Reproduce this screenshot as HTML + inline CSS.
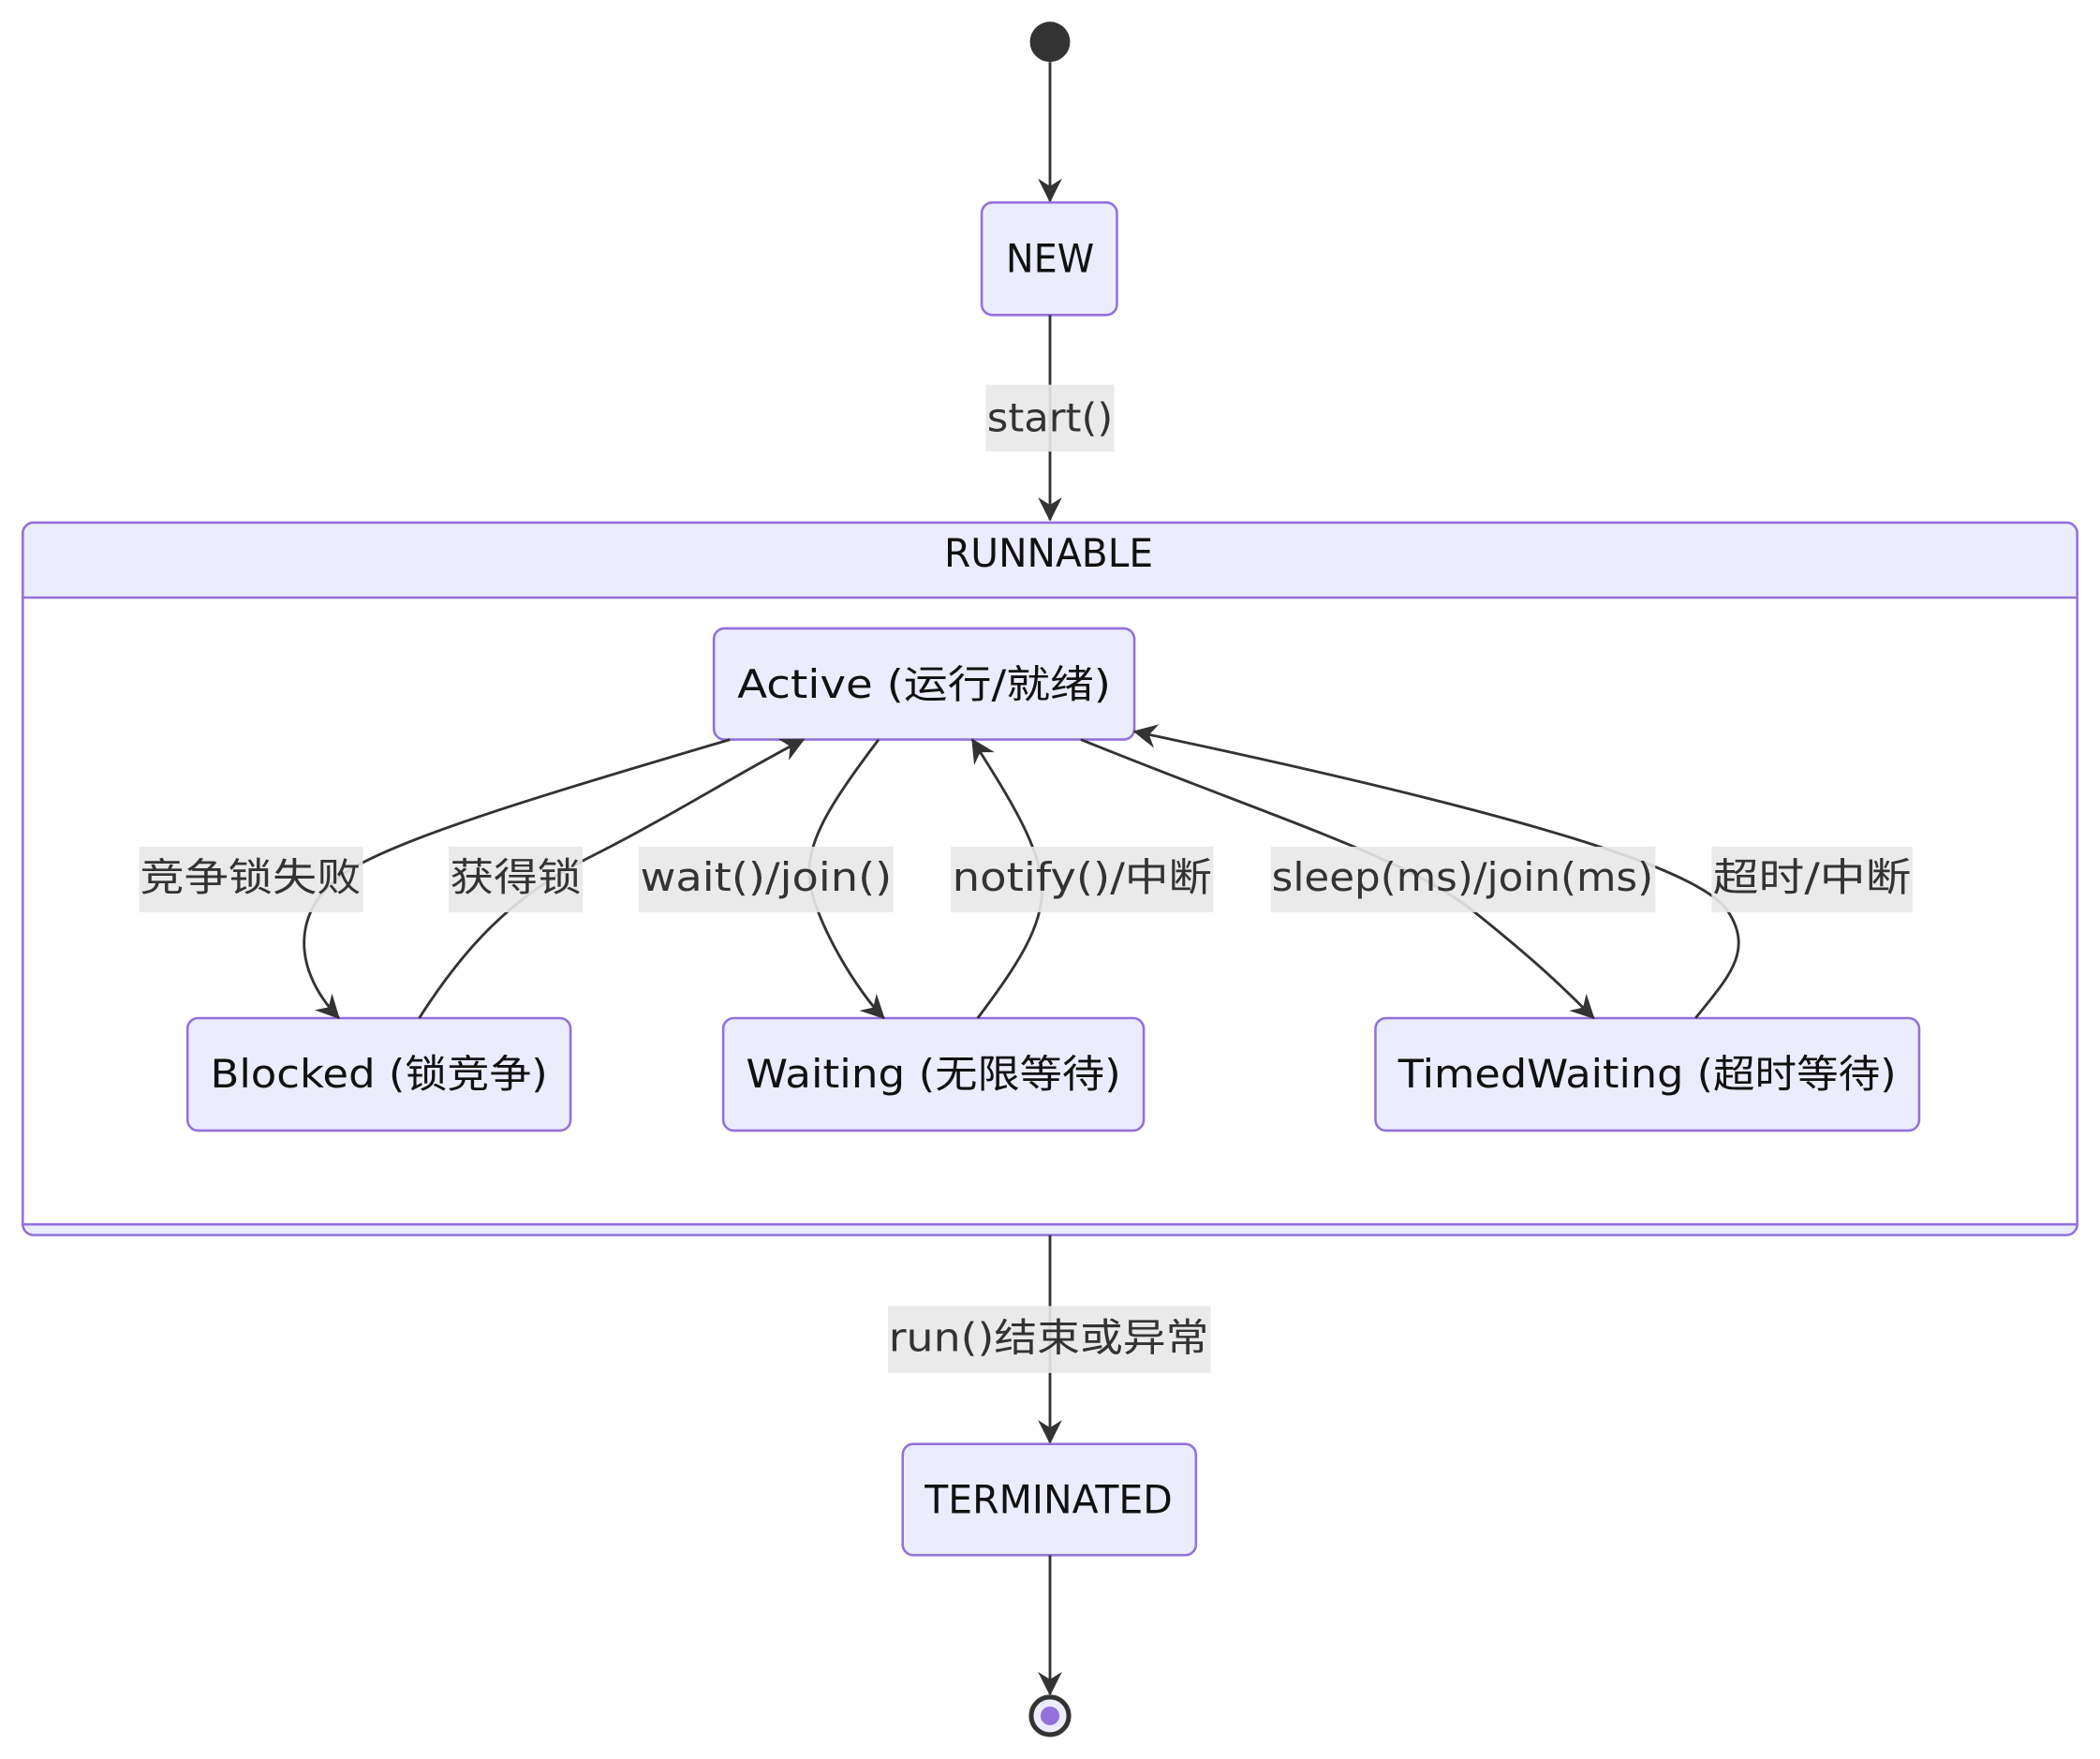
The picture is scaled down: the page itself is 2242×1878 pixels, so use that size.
<!DOCTYPE html>
<html><head><meta charset="utf-8"><style>
html,body{margin:0;padding:0;background:#fff;}
svg{display:block;}
text{font-family:"DejaVu Sans","Noto Sans CJK SC",sans-serif;font-size:29px;text-anchor:middle;dominant-baseline:central;fill:#111;}
.n{fill:#ECECFF;stroke:#9370DB;stroke-width:1.8;}
.e{fill:none;stroke:#333;stroke-width:2;}
.lb{fill:#e8e8e8;opacity:0.9;}
text.lt{fill:#333;}
</style></head><body>
<svg width="2242" height="1878" viewBox="0 0 1568 1313" xmlns="http://www.w3.org/2000/svg">
<defs>
<marker id="a" viewBox="0 0 16 16" refX="15" refY="8" markerWidth="18" markerHeight="18" markerUnits="userSpaceOnUse" orient="auto">
<path d="M0,0 L16,8 L0,16 L5,8 z" fill="#333"/>
</marker>
</defs>
<circle cx="784" cy="31" r="15" fill="#333"/>
<line class="e" x1="784" y1="46" x2="784" y2="150" marker-end="url(#a)"/>
<rect class="n" x="733" y="151" width="101" height="84" rx="8"/>
<text x="784" y="193" textLength="66" lengthAdjust="spacingAndGlyphs">NEW</text>
<line class="e" x1="784" y1="235" x2="784" y2="388" marker-end="url(#a)"/>
<rect class="lb" x="736" y="287" width="96" height="50"/>
<text class="lt" x="784" y="312" textLength="94" lengthAdjust="spacingAndGlyphs">start()</text>
<rect class="n" x="17" y="390" width="1534" height="532" rx="8"/>
<rect x="18" y="447" width="1532" height="467" fill="#fff"/>
<line x1="17" y1="446" x2="1551" y2="446" stroke="#9370DB" stroke-width="1.8"/>
<line x1="17" y1="914" x2="1551" y2="914" stroke="#9370DB" stroke-width="1.8"/>
<text x="783" y="413" textLength="156" lengthAdjust="spacingAndGlyphs">RUNNABLE</text>
<rect class="n" x="533" y="469" width="314" height="83" rx="8"/>
<text x="690" y="511" textLength="279" lengthAdjust="spacingAndGlyphs">Active (运行/就绪)</text>
<rect class="n" x="140" y="760" width="286" height="84" rx="8"/>
<text x="283" y="802" textLength="252" lengthAdjust="spacingAndGlyphs">Blocked (锁竞争)</text>
<rect class="n" x="540" y="760" width="314" height="84" rx="8"/>
<text x="697" y="802" textLength="280" lengthAdjust="spacingAndGlyphs">Waiting (无限等待)</text>
<rect class="n" x="1027" y="760" width="406" height="84" rx="8"/>
<text x="1230" y="802" textLength="372" lengthAdjust="spacingAndGlyphs">TimedWaiting (超时等待)</text>
<path class="e" d="M545,552 C400,595 300,625 260,650 S215,720 253,760" marker-end="url(#a)"/>
<path class="e" d="M313,760 C345,710 380,670 440,640 S560,572 600,552" marker-end="url(#a)"/>
<path class="e" d="M656,552 C620,600 600,630 605,660 S640,740 660,760" marker-end="url(#a)"/>
<path class="e" d="M730,760 C760,720 780,690 778,660 S750,590 726,552" marker-end="url(#a)"/>
<path class="e" d="M807,552 C950,610 1050,640 1100,680 S1170,740 1190,760" marker-end="url(#a)"/>
<path class="e" d="M1266,760 C1290,730 1310,710 1290,680 S1150,610 847,546" marker-end="url(#a)"/>
<rect class="lb" x="104" y="632" width="167" height="49"/><text class="lt" x="187" y="655" textLength="165" lengthAdjust="spacingAndGlyphs">竞争锁失败</text>
<rect class="lb" x="335" y="632" width="100" height="49"/><text class="lt" x="385" y="655" textLength="98" lengthAdjust="spacingAndGlyphs">获得锁</text>
<rect class="lb" x="477" y="632" width="190" height="49"/><text class="lt" x="572" y="655" textLength="188" lengthAdjust="spacingAndGlyphs">wait()/join()</text>
<rect class="lb" x="710" y="632" width="196" height="49"/><text class="lt" x="808" y="655" textLength="194" lengthAdjust="spacingAndGlyphs">notify()/中断</text>
<rect class="lb" x="949" y="632" width="287" height="49"/><text class="lt" x="1092" y="655" textLength="285" lengthAdjust="spacingAndGlyphs">sleep(ms)/join(ms)</text>
<rect class="lb" x="1278" y="632" width="150" height="49"/><text class="lt" x="1353" y="655" textLength="148" lengthAdjust="spacingAndGlyphs">超时/中断</text>
<line class="e" x1="784" y1="922" x2="784" y2="1077" marker-end="url(#a)"/>
<rect class="lb" x="663" y="975" width="241" height="50"/>
<text class="lt" x="783" y="999" textLength="239" lengthAdjust="spacingAndGlyphs">run()结束或异常</text>
<rect class="n" x="674" y="1078" width="219" height="83" rx="8"/>
<text x="783" y="1120" textLength="185" lengthAdjust="spacingAndGlyphs">TERMINATED</text>
<line class="e" x1="784" y1="1161" x2="784" y2="1265" marker-end="url(#a)"/>
<circle cx="784" cy="1281" r="14" fill="#ECECFF" stroke="#333" stroke-width="3.5"/>
<circle cx="784" cy="1281" r="7" fill="#9370DB"/>
</svg>
</body></html>
